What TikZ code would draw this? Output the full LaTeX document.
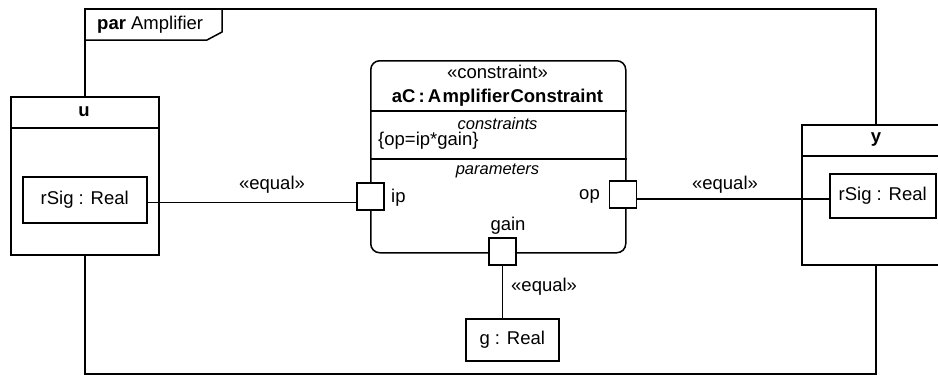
\documentclass[tikz,border=0pt]{standalone}
\usepackage{fontspec}
\setmainfont{Liberation Sans}
\begin{document}
\begin{tikzpicture}[x=1pt,y=-1pt,
  txt/.style={inner sep=0pt, font=\fontsize{18.5}{22}\selectfont},
  itxt/.style={inner sep=0pt, font=\fontsize{16.5}{20}\selectfont\itshape},
  box/.style={draw, line width=1.5pt, fill=white, inner sep=0pt, anchor=north west},
  port/.style={draw, line width=1.5pt, fill=white, minimum size=27pt, inner sep=0pt},
  conn/.style={line width=1.5pt},
  sep/.style={line width=1.5pt}]
\useasboundingbox (0,0) rectangle (938,375);
\clip (0,0) rectangle (938,375);
% frame
\node[box, fill=none, minimum width=791pt, minimum height=365pt] (frame) at (84,8) {};
\draw[sep] (222,8) -- (222,32) -- (207,40) -- (84,40);
\node[txt, anchor=west] (ftitle) at (97,25) {\textbf{par} Amplifier};
% u block
\node[box, minimum width=148pt, minimum height=158pt] (u) at (10,96) {};
\draw[sep] (u.west |- 0,128) -- (u.east |- 0,128);
\node[txt] (ulbl) at (84,112) {\textbf{u}};
\node[box, minimum width=124pt, minimum height=46pt] (urs) at (22,176) {};
\node[txt] (urstxt) at (urs.center) {rSig : Real};
% y block
\node[box, minimum width=150pt, minimum height=140pt] (yb) at (801,124) {};
\draw[sep] (yb.west |- 0,156) -- (yb.east |- 0,156);
\node[txt] (ylbl) at (876,140) {\textbf{y}};
\node[box, minimum width=106pt, minimum height=44pt] (yrs) at (829,173) {};
\node[txt] (yrstxt) at (yrs.center) {rSig : Real};
% constraint block
\node[box, rounded corners=9pt, minimum width=255pt, minimum height=192pt] (cb) at (370,60) {};
\draw[sep] (cb.west |- 0,111) -- (cb.east |- 0,111);
\draw[sep] (cb.west |- 0,159) -- (cb.east |- 0,159);
\node[txt] (st) at (497.5,72) {«constraint»};
\node[txt] (cname) at (497.5,98) {\textbf{aC\,:\,A\kern1.5pt mplifier\kern1pt Constraint}};
\node[itxt] (ctitle) at (497.5,124) {constraints};
\node[txt, anchor=west] (cexpr) at (378,141) {\{op=ip*gain\}};
\node[itxt] (ptitle) at (497.5,171) {parameters};
% ports
\node[port] (ip) at (370.5,196.5) {};
\node[txt, anchor=west] (iplbl) at (391,198) {ip};
\node[port] (op) at (623,194.5) {};
\node[txt, anchor=east] (oplbl) at (600,196) {op};
\node[port] (gain) at (502.5,251.5) {};
\node[txt] (gainlbl) at (508,226) {gain};
% g box
\node[box, minimum width=93pt, minimum height=42pt] (g) at (465,318) {};
\node[txt] (gtxt) at (g.center) {g : Real};
% connectors
\draw[conn] ([yshift=-2.5pt]urs.east) -- ([yshift=-2.5pt]urs.east -| ip.west);
\draw[conn] ([yshift=-4.5pt]op.east) -- ([yshift=-4.5pt]op.east -| yrs.west);
\draw[conn] (gain.south) -- (gain.south |- g.north);
\node[txt] (eq1) at (272,185) {«equal»};
\node[txt] (eq2) at (725,185) {«equal»};
\node[txt, anchor=west] (eq3) at (511,287) {«equal»};
\end{tikzpicture}
\end{document}
